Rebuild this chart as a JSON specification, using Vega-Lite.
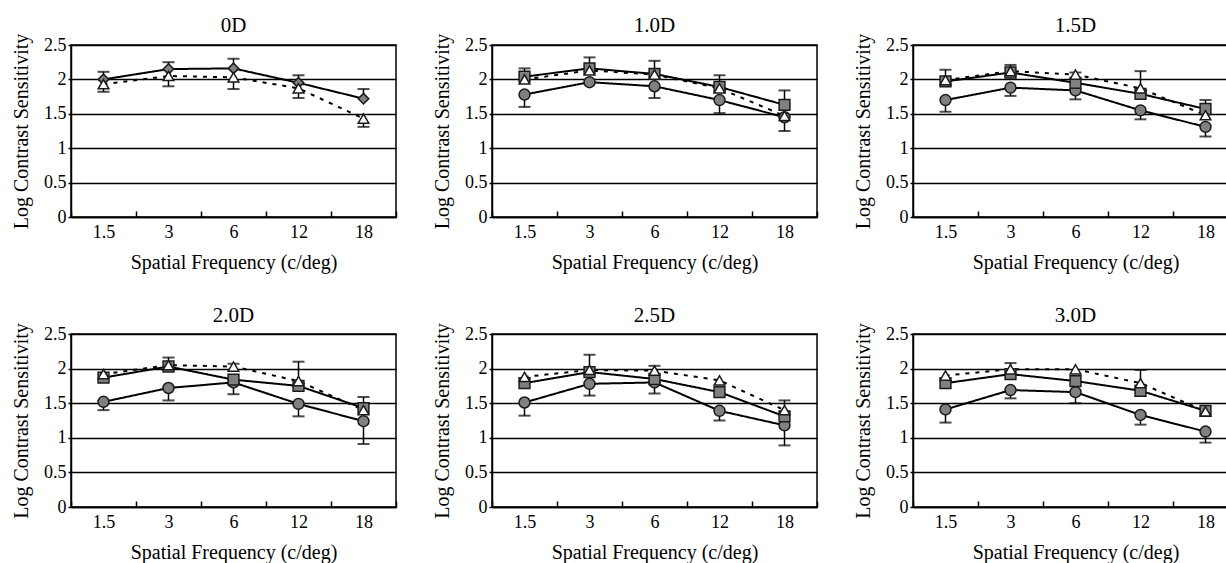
{
 "$schema": "https://vega.github.io/schema/vega-lite/v6.json",
 "padding": {"left": 10, "top": 14, "right": 0, "bottom": 0},
 "bounds": "flush",
 "columns": 3,
 "spacing": {"row": 117, "column": 96},
 "datasets": {
  "pts": [
   {"p":"0D","f":"1.5","s":"diamond","v":2.0},{"p":"0D","f":"3","s":"diamond","v":2.15},{"p":"0D","f":"6","s":"diamond","v":2.16},{"p":"0D","f":"12","s":"diamond","v":1.95},{"p":"0D","f":"18","s":"diamond","v":1.72},
   {"p":"0D","f":"1.5","s":"triangle","v":1.93},{"p":"0D","f":"3","s":"triangle","v":2.05},{"p":"0D","f":"6","s":"triangle","v":2.03},{"p":"0D","f":"12","s":"triangle","v":1.87},{"p":"0D","f":"18","s":"triangle","v":1.43},
   {"p":"1.0D","f":"1.5","s":"circle","v":1.78},{"p":"1.0D","f":"3","s":"circle","v":1.96},{"p":"1.0D","f":"6","s":"circle","v":1.9},{"p":"1.0D","f":"12","s":"circle","v":1.7},{"p":"1.0D","f":"18","s":"circle","v":1.45},
   {"p":"1.0D","f":"1.5","s":"square","v":2.04},{"p":"1.0D","f":"3","s":"square","v":2.16},{"p":"1.0D","f":"6","s":"square","v":2.08},{"p":"1.0D","f":"12","s":"square","v":1.89},{"p":"1.0D","f":"18","s":"square","v":1.63},
   {"p":"1.0D","f":"1.5","s":"triangle","v":2.0},{"p":"1.0D","f":"3","s":"triangle","v":2.13},{"p":"1.0D","f":"6","s":"triangle","v":2.07},{"p":"1.0D","f":"12","s":"triangle","v":1.87},{"p":"1.0D","f":"18","s":"triangle","v":1.47},
   {"p":"1.5D","f":"1.5","s":"circle","v":1.7},{"p":"1.5D","f":"3","s":"circle","v":1.88},{"p":"1.5D","f":"6","s":"circle","v":1.84},{"p":"1.5D","f":"12","s":"circle","v":1.55},{"p":"1.5D","f":"18","s":"circle","v":1.31},
   {"p":"1.5D","f":"1.5","s":"square","v":1.97},{"p":"1.5D","f":"3","s":"square","v":2.1},{"p":"1.5D","f":"6","s":"square","v":1.95},{"p":"1.5D","f":"12","s":"square","v":1.79},{"p":"1.5D","f":"18","s":"square","v":1.57},
   {"p":"1.5D","f":"1.5","s":"triangle","v":1.99},{"p":"1.5D","f":"3","s":"triangle","v":2.12},{"p":"1.5D","f":"6","s":"triangle","v":2.07},{"p":"1.5D","f":"12","s":"triangle","v":1.87},{"p":"1.5D","f":"18","s":"triangle","v":1.48},
   {"p":"2.0D","f":"1.5","s":"circle","v":1.52},{"p":"2.0D","f":"3","s":"circle","v":1.72},{"p":"2.0D","f":"6","s":"circle","v":1.8},{"p":"2.0D","f":"12","s":"circle","v":1.49},{"p":"2.0D","f":"18","s":"circle","v":1.24},
   {"p":"2.0D","f":"1.5","s":"square","v":1.87},{"p":"2.0D","f":"3","s":"square","v":2.03},{"p":"2.0D","f":"6","s":"square","v":1.84},{"p":"2.0D","f":"12","s":"square","v":1.75},{"p":"2.0D","f":"18","s":"square","v":1.43},
   {"p":"2.0D","f":"1.5","s":"triangle","v":1.92},{"p":"2.0D","f":"3","s":"triangle","v":2.05},{"p":"2.0D","f":"6","s":"triangle","v":2.03},{"p":"2.0D","f":"12","s":"triangle","v":1.82},{"p":"2.0D","f":"18","s":"triangle","v":1.4},
   {"p":"2.5D","f":"1.5","s":"circle","v":1.51},{"p":"2.5D","f":"3","s":"circle","v":1.78},{"p":"2.5D","f":"6","s":"circle","v":1.8},{"p":"2.5D","f":"12","s":"circle","v":1.39},{"p":"2.5D","f":"18","s":"circle","v":1.18},
   {"p":"2.5D","f":"1.5","s":"square","v":1.79},{"p":"2.5D","f":"3","s":"square","v":1.95},{"p":"2.5D","f":"6","s":"square","v":1.85},{"p":"2.5D","f":"12","s":"square","v":1.66},{"p":"2.5D","f":"18","s":"square","v":1.31},
   {"p":"2.5D","f":"1.5","s":"triangle","v":1.88},{"p":"2.5D","f":"3","s":"triangle","v":1.98},{"p":"2.5D","f":"6","s":"triangle","v":1.97},{"p":"2.5D","f":"12","s":"triangle","v":1.83},{"p":"2.5D","f":"18","s":"triangle","v":1.4},
   {"p":"3.0D","f":"1.5","s":"circle","v":1.41},{"p":"3.0D","f":"3","s":"circle","v":1.69},{"p":"3.0D","f":"6","s":"circle","v":1.66},{"p":"3.0D","f":"12","s":"circle","v":1.33},{"p":"3.0D","f":"18","s":"circle","v":1.09},
   {"p":"3.0D","f":"1.5","s":"square","v":1.79},{"p":"3.0D","f":"3","s":"square","v":1.92},{"p":"3.0D","f":"6","s":"square","v":1.82},{"p":"3.0D","f":"12","s":"square","v":1.68},{"p":"3.0D","f":"18","s":"square","v":1.39},
   {"p":"3.0D","f":"1.5","s":"triangle","v":1.9},{"p":"3.0D","f":"3","s":"triangle","v":1.99},{"p":"3.0D","f":"6","s":"triangle","v":1.99},{"p":"3.0D","f":"12","s":"triangle","v":1.79},{"p":"3.0D","f":"18","s":"triangle","v":1.38}
  ],
  "errs": [
   {"p":"0D","f":"1.5","y1":2.0,"y2":2.11},{"p":"0D","f":"3","y1":2.15,"y2":2.25},{"p":"0D","f":"6","y1":2.16,"y2":2.3},{"p":"0D","f":"12","y1":1.95,"y2":2.06},{"p":"0D","f":"18","y1":1.72,"y2":1.86},
   {"p":"0D","f":"1.5","y1":1.93,"y2":1.82},{"p":"0D","f":"3","y1":2.05,"y2":1.9},{"p":"0D","f":"6","y1":2.03,"y2":1.86},{"p":"0D","f":"12","y1":1.87,"y2":1.73},{"p":"0D","f":"18","y1":1.43,"y2":1.31},
   {"p":"1.0D","f":"1.5","y1":2.04,"y2":2.16},{"p":"1.0D","f":"3","y1":2.16,"y2":2.32},{"p":"1.0D","f":"6","y1":2.08,"y2":2.27},{"p":"1.0D","f":"12","y1":1.89,"y2":2.06},{"p":"1.0D","f":"18","y1":1.63,"y2":1.84},
   {"p":"1.0D","f":"1.5","y1":1.78,"y2":1.6},{"p":"1.0D","f":"6","y1":1.9,"y2":1.73},{"p":"1.0D","f":"12","y1":1.7,"y2":1.51},{"p":"1.0D","f":"18","y1":1.45,"y2":1.25},
   {"p":"1.5D","f":"1.5","y1":1.99,"y2":2.14},{"p":"1.5D","f":"3","y1":2.12,"y2":2.21},{"p":"1.5D","f":"6","y1":2.07,"y2":2.1},{"p":"1.5D","f":"12","y1":1.87,"y2":2.12},{"p":"1.5D","f":"18","y1":1.57,"y2":1.7},
   {"p":"1.5D","f":"1.5","y1":1.7,"y2":1.53},{"p":"1.5D","f":"3","y1":1.88,"y2":1.76},{"p":"1.5D","f":"6","y1":1.84,"y2":1.71},{"p":"1.5D","f":"12","y1":1.55,"y2":1.42},{"p":"1.5D","f":"18","y1":1.31,"y2":1.17},
   {"p":"2.0D","f":"3","y1":2.05,"y2":2.16},{"p":"2.0D","f":"6","y1":2.03,"y2":2.07},{"p":"2.0D","f":"12","y1":1.82,"y2":2.1},{"p":"2.0D","f":"18","y1":1.43,"y2":1.59},
   {"p":"2.0D","f":"1.5","y1":1.52,"y2":1.4},{"p":"2.0D","f":"3","y1":1.72,"y2":1.54},{"p":"2.0D","f":"6","y1":1.8,"y2":1.63},{"p":"2.0D","f":"12","y1":1.49,"y2":1.31},{"p":"2.0D","f":"18","y1":1.24,"y2":0.91},
   {"p":"2.5D","f":"3","y1":1.98,"y2":2.2},{"p":"2.5D","f":"6","y1":1.97,"y2":2.04},{"p":"2.5D","f":"18","y1":1.4,"y2":1.54},
   {"p":"2.5D","f":"1.5","y1":1.51,"y2":1.32},{"p":"2.5D","f":"3","y1":1.78,"y2":1.61},{"p":"2.5D","f":"6","y1":1.8,"y2":1.64},{"p":"2.5D","f":"12","y1":1.39,"y2":1.25},{"p":"2.5D","f":"18","y1":1.18,"y2":0.89},
   {"p":"3.0D","f":"3","y1":1.99,"y2":2.08},{"p":"3.0D","f":"12","y1":1.79,"y2":1.98},
   {"p":"3.0D","f":"1.5","y1":1.41,"y2":1.22},{"p":"3.0D","f":"3","y1":1.69,"y2":1.57},{"p":"3.0D","f":"6","y1":1.66,"y2":1.5},{"p":"3.0D","f":"12","y1":1.33,"y2":1.19},{"p":"3.0D","f":"18","y1":1.09,"y2":0.93}
  ]
 },
 "concat": [
  {"width": 325, "height": 172, "title": "0D",
   "encoding": {"x": {"field": "f", "type": "ordinal", "sort": ["1.5","3","6","12","18"], "scale": {"type": "band", "paddingInner": 0, "paddingOuter": 0, "domain": ["1.5","3","6","12","18"]}, "axis": {"title": "Spatial Frequency (c/deg)"}}},
   "layer": [
    {"data": {"name": "pts"}, "transform": [{"filter": "datum.p == '0D'"}], "mark": {"type": "line", "color": "black", "strokeWidth": 2},
     "encoding": {"y": {"field": "v", "type": "quantitative", "scale": {"domain": [0, 2.5], "nice": false}, "axis": {"title": "Log Contrast Sensitivity"}},
      "detail": {"field": "s"}, "strokeDash": {"field": "s", "type": "nominal", "scale": {"domain": ["circle","square","triangle","diamond"], "range": [[1,0],[1,0],[4,6],[1,0]]}, "legend": null}, "strokeWidth": {"field": "s", "type": "nominal", "scale": {"domain": ["circle","square","triangle","diamond"], "range": [2,2,2.5,2]}, "legend": null}}},
    {"data": {"name": "errs"}, "transform": [{"filter": "datum.p == '0D'"}], "mark": {"type": "rule", "color": "black", "strokeWidth": 1.5},
     "encoding": {"y": {"field": "y1", "type": "quantitative"}, "y2": {"field": "y2"}}},
    {"data": {"name": "errs"}, "transform": [{"filter": "datum.p == '0D'"}], "mark": {"type": "tick", "color": "black", "thickness": 2, "size": 12, "orient": "horizontal"},
     "encoding": {"y": {"field": "y2", "type": "quantitative"}}},
    {"data": {"name": "pts"}, "transform": [{"filter": "datum.p == '0D'"}], "mark": {"type": "point", "filled": true, "stroke": "#1a1a1a", "strokeWidth": 1.5, "opacity": 1},
     "encoding": {"y": {"field": "v", "type": "quantitative"}, "size": {"field": "s", "type": "nominal", "scale": {"domain": ["circle","square","triangle","diamond"], "range": [120,110,110,100]}, "legend": null}, "shape": {"field": "s", "type": "nominal", "scale": {"domain": ["circle","square","triangle","diamond"], "range": ["circle","square","triangle-up","diamond"]}, "legend": null}, "fill": {"field": "s", "type": "nominal", "scale": {"domain": ["circle","square","triangle","diamond"], "range": ["#808080","#808080","#ffffff","#808080"]}, "legend": null}}}
   ]},
  {"width": 325, "height": 172, "title": "1.0D",
   "encoding": {"x": {"field": "f", "type": "ordinal", "sort": ["1.5","3","6","12","18"], "scale": {"type": "band", "paddingInner": 0, "paddingOuter": 0, "domain": ["1.5","3","6","12","18"]}, "axis": {"title": "Spatial Frequency (c/deg)"}}},
   "layer": [
    {"data": {"name": "pts"}, "transform": [{"filter": "datum.p == '1.0D'"}], "mark": {"type": "line", "color": "black", "strokeWidth": 2},
     "encoding": {"y": {"field": "v", "type": "quantitative", "scale": {"domain": [0, 2.5], "nice": false}, "axis": {"title": "Log Contrast Sensitivity"}},
      "detail": {"field": "s"}, "strokeDash": {"field": "s", "type": "nominal", "scale": {"domain": ["circle","square","triangle","diamond"], "range": [[1,0],[1,0],[4,6],[1,0]]}, "legend": null}, "strokeWidth": {"field": "s", "type": "nominal", "scale": {"domain": ["circle","square","triangle","diamond"], "range": [2,2,2.5,2]}, "legend": null}}},
    {"data": {"name": "errs"}, "transform": [{"filter": "datum.p == '1.0D'"}], "mark": {"type": "rule", "color": "black", "strokeWidth": 1.5},
     "encoding": {"y": {"field": "y1", "type": "quantitative"}, "y2": {"field": "y2"}}},
    {"data": {"name": "errs"}, "transform": [{"filter": "datum.p == '1.0D'"}], "mark": {"type": "tick", "color": "black", "thickness": 2, "size": 12, "orient": "horizontal"},
     "encoding": {"y": {"field": "y2", "type": "quantitative"}}},
    {"data": {"name": "pts"}, "transform": [{"filter": "datum.p == '1.0D'"}], "mark": {"type": "point", "filled": true, "stroke": "#1a1a1a", "strokeWidth": 1.5, "opacity": 1},
     "encoding": {"y": {"field": "v", "type": "quantitative"}, "size": {"field": "s", "type": "nominal", "scale": {"domain": ["circle","square","triangle","diamond"], "range": [120,110,110,100]}, "legend": null}, "shape": {"field": "s", "type": "nominal", "scale": {"domain": ["circle","square","triangle","diamond"], "range": ["circle","square","triangle-up","diamond"]}, "legend": null}, "fill": {"field": "s", "type": "nominal", "scale": {"domain": ["circle","square","triangle","diamond"], "range": ["#808080","#808080","#ffffff","#808080"]}, "legend": null}}}
   ]},
  {"width": 325, "height": 172, "title": "1.5D",
   "encoding": {"x": {"field": "f", "type": "ordinal", "sort": ["1.5","3","6","12","18"], "scale": {"type": "band", "paddingInner": 0, "paddingOuter": 0, "domain": ["1.5","3","6","12","18"]}, "axis": {"title": "Spatial Frequency (c/deg)"}}},
   "layer": [
    {"data": {"name": "pts"}, "transform": [{"filter": "datum.p == '1.5D'"}], "mark": {"type": "line", "color": "black", "strokeWidth": 2},
     "encoding": {"y": {"field": "v", "type": "quantitative", "scale": {"domain": [0, 2.5], "nice": false}, "axis": {"title": "Log Contrast Sensitivity"}},
      "detail": {"field": "s"}, "strokeDash": {"field": "s", "type": "nominal", "scale": {"domain": ["circle","square","triangle","diamond"], "range": [[1,0],[1,0],[4,6],[1,0]]}, "legend": null}, "strokeWidth": {"field": "s", "type": "nominal", "scale": {"domain": ["circle","square","triangle","diamond"], "range": [2,2,2.5,2]}, "legend": null}}},
    {"data": {"name": "errs"}, "transform": [{"filter": "datum.p == '1.5D'"}], "mark": {"type": "rule", "color": "black", "strokeWidth": 1.5},
     "encoding": {"y": {"field": "y1", "type": "quantitative"}, "y2": {"field": "y2"}}},
    {"data": {"name": "errs"}, "transform": [{"filter": "datum.p == '1.5D'"}], "mark": {"type": "tick", "color": "black", "thickness": 2, "size": 12, "orient": "horizontal"},
     "encoding": {"y": {"field": "y2", "type": "quantitative"}}},
    {"data": {"name": "pts"}, "transform": [{"filter": "datum.p == '1.5D'"}], "mark": {"type": "point", "filled": true, "stroke": "#1a1a1a", "strokeWidth": 1.5, "opacity": 1},
     "encoding": {"y": {"field": "v", "type": "quantitative"}, "size": {"field": "s", "type": "nominal", "scale": {"domain": ["circle","square","triangle","diamond"], "range": [120,110,110,100]}, "legend": null}, "shape": {"field": "s", "type": "nominal", "scale": {"domain": ["circle","square","triangle","diamond"], "range": ["circle","square","triangle-up","diamond"]}, "legend": null}, "fill": {"field": "s", "type": "nominal", "scale": {"domain": ["circle","square","triangle","diamond"], "range": ["#808080","#808080","#ffffff","#808080"]}, "legend": null}}}
   ]},
  {"width": 325, "height": 173, "title": "2.0D",
   "encoding": {"x": {"field": "f", "type": "ordinal", "sort": ["1.5","3","6","12","18"], "scale": {"type": "band", "paddingInner": 0, "paddingOuter": 0, "domain": ["1.5","3","6","12","18"]}, "axis": {"title": "Spatial Frequency (c/deg)"}}},
   "layer": [
    {"data": {"name": "pts"}, "transform": [{"filter": "datum.p == '2.0D'"}], "mark": {"type": "line", "color": "black", "strokeWidth": 2},
     "encoding": {"y": {"field": "v", "type": "quantitative", "scale": {"domain": [0, 2.5], "nice": false}, "axis": {"title": "Log Contrast Sensitivity"}},
      "detail": {"field": "s"}, "strokeDash": {"field": "s", "type": "nominal", "scale": {"domain": ["circle","square","triangle","diamond"], "range": [[1,0],[1,0],[4,6],[1,0]]}, "legend": null}, "strokeWidth": {"field": "s", "type": "nominal", "scale": {"domain": ["circle","square","triangle","diamond"], "range": [2,2,2.5,2]}, "legend": null}}},
    {"data": {"name": "errs"}, "transform": [{"filter": "datum.p == '2.0D'"}], "mark": {"type": "rule", "color": "black", "strokeWidth": 1.5},
     "encoding": {"y": {"field": "y1", "type": "quantitative"}, "y2": {"field": "y2"}}},
    {"data": {"name": "errs"}, "transform": [{"filter": "datum.p == '2.0D'"}], "mark": {"type": "tick", "color": "black", "thickness": 2, "size": 12, "orient": "horizontal"},
     "encoding": {"y": {"field": "y2", "type": "quantitative"}}},
    {"data": {"name": "pts"}, "transform": [{"filter": "datum.p == '2.0D'"}], "mark": {"type": "point", "filled": true, "stroke": "#1a1a1a", "strokeWidth": 1.5, "opacity": 1},
     "encoding": {"y": {"field": "v", "type": "quantitative"}, "size": {"field": "s", "type": "nominal", "scale": {"domain": ["circle","square","triangle","diamond"], "range": [120,110,110,100]}, "legend": null}, "shape": {"field": "s", "type": "nominal", "scale": {"domain": ["circle","square","triangle","diamond"], "range": ["circle","square","triangle-up","diamond"]}, "legend": null}, "fill": {"field": "s", "type": "nominal", "scale": {"domain": ["circle","square","triangle","diamond"], "range": ["#808080","#808080","#ffffff","#808080"]}, "legend": null}}}
   ]},
  {"width": 325, "height": 173, "title": "2.5D",
   "encoding": {"x": {"field": "f", "type": "ordinal", "sort": ["1.5","3","6","12","18"], "scale": {"type": "band", "paddingInner": 0, "paddingOuter": 0, "domain": ["1.5","3","6","12","18"]}, "axis": {"title": "Spatial Frequency (c/deg)"}}},
   "layer": [
    {"data": {"name": "pts"}, "transform": [{"filter": "datum.p == '2.5D'"}], "mark": {"type": "line", "color": "black", "strokeWidth": 2},
     "encoding": {"y": {"field": "v", "type": "quantitative", "scale": {"domain": [0, 2.5], "nice": false}, "axis": {"title": "Log Contrast Sensitivity"}},
      "detail": {"field": "s"}, "strokeDash": {"field": "s", "type": "nominal", "scale": {"domain": ["circle","square","triangle","diamond"], "range": [[1,0],[1,0],[4,6],[1,0]]}, "legend": null}, "strokeWidth": {"field": "s", "type": "nominal", "scale": {"domain": ["circle","square","triangle","diamond"], "range": [2,2,2.5,2]}, "legend": null}}},
    {"data": {"name": "errs"}, "transform": [{"filter": "datum.p == '2.5D'"}], "mark": {"type": "rule", "color": "black", "strokeWidth": 1.5},
     "encoding": {"y": {"field": "y1", "type": "quantitative"}, "y2": {"field": "y2"}}},
    {"data": {"name": "errs"}, "transform": [{"filter": "datum.p == '2.5D'"}], "mark": {"type": "tick", "color": "black", "thickness": 2, "size": 12, "orient": "horizontal"},
     "encoding": {"y": {"field": "y2", "type": "quantitative"}}},
    {"data": {"name": "pts"}, "transform": [{"filter": "datum.p == '2.5D'"}], "mark": {"type": "point", "filled": true, "stroke": "#1a1a1a", "strokeWidth": 1.5, "opacity": 1},
     "encoding": {"y": {"field": "v", "type": "quantitative"}, "size": {"field": "s", "type": "nominal", "scale": {"domain": ["circle","square","triangle","diamond"], "range": [120,110,110,100]}, "legend": null}, "shape": {"field": "s", "type": "nominal", "scale": {"domain": ["circle","square","triangle","diamond"], "range": ["circle","square","triangle-up","diamond"]}, "legend": null}, "fill": {"field": "s", "type": "nominal", "scale": {"domain": ["circle","square","triangle","diamond"], "range": ["#808080","#808080","#ffffff","#808080"]}, "legend": null}}}
   ]},
  {"width": 325, "height": 173, "title": "3.0D",
   "encoding": {"x": {"field": "f", "type": "ordinal", "sort": ["1.5","3","6","12","18"], "scale": {"type": "band", "paddingInner": 0, "paddingOuter": 0, "domain": ["1.5","3","6","12","18"]}, "axis": {"title": "Spatial Frequency (c/deg)"}}},
   "layer": [
    {"data": {"name": "pts"}, "transform": [{"filter": "datum.p == '3.0D'"}], "mark": {"type": "line", "color": "black", "strokeWidth": 2},
     "encoding": {"y": {"field": "v", "type": "quantitative", "scale": {"domain": [0, 2.5], "nice": false}, "axis": {"title": "Log Contrast Sensitivity"}},
      "detail": {"field": "s"}, "strokeDash": {"field": "s", "type": "nominal", "scale": {"domain": ["circle","square","triangle","diamond"], "range": [[1,0],[1,0],[4,6],[1,0]]}, "legend": null}, "strokeWidth": {"field": "s", "type": "nominal", "scale": {"domain": ["circle","square","triangle","diamond"], "range": [2,2,2.5,2]}, "legend": null}}},
    {"data": {"name": "errs"}, "transform": [{"filter": "datum.p == '3.0D'"}], "mark": {"type": "rule", "color": "black", "strokeWidth": 1.5},
     "encoding": {"y": {"field": "y1", "type": "quantitative"}, "y2": {"field": "y2"}}},
    {"data": {"name": "errs"}, "transform": [{"filter": "datum.p == '3.0D'"}], "mark": {"type": "tick", "color": "black", "thickness": 2, "size": 12, "orient": "horizontal"},
     "encoding": {"y": {"field": "y2", "type": "quantitative"}}},
    {"data": {"name": "pts"}, "transform": [{"filter": "datum.p == '3.0D'"}], "mark": {"type": "point", "filled": true, "stroke": "#1a1a1a", "strokeWidth": 1.5, "opacity": 1},
     "encoding": {"y": {"field": "v", "type": "quantitative"}, "size": {"field": "s", "type": "nominal", "scale": {"domain": ["circle","square","triangle","diamond"], "range": [120,110,110,100]}, "legend": null}, "shape": {"field": "s", "type": "nominal", "scale": {"domain": ["circle","square","triangle","diamond"], "range": ["circle","square","triangle-up","diamond"]}, "legend": null}, "fill": {"field": "s", "type": "nominal", "scale": {"domain": ["circle","square","triangle","diamond"], "range": ["#808080","#808080","#ffffff","#808080"]}, "legend": null}}}
   ]}
 ],
 "config": {
  "font": "Liberation Serif",
  "background": "white",
  "view": {"stroke": "black", "strokeWidth": 1.5},
  "title": {"font": "Liberation Serif", "fontSize": 21, "fontWeight": "normal", "color": "black", "offset": -3, "frame": "group"},
  "axis": {"labelFont": "Liberation Serif", "titleFont": "Liberation Serif", "labelFontSize": 18, "titleFontSize": 20, "titleFontWeight": "normal", "labelColor": "black", "titleColor": "black", "domainColor": "black", "domainWidth": 1.5, "tickColor": "black", "tickWidth": 1.5},
  "axisX": {"labelAngle": 0, "tickBand": "extent", "tickSize": -6, "labelPadding": 12, "titlePadding": 11, "grid": false},
  "axisY": {"tickCount": 5, "grid": true, "gridColor": "black", "gridWidth": 1.5, "gridOpacity": 1, "tickSize": 3, "labelPadding": 2, "titlePadding": 12, "labelExpr": "format(datum.value, '~g')", "labelOverlap": false}
 }
}
